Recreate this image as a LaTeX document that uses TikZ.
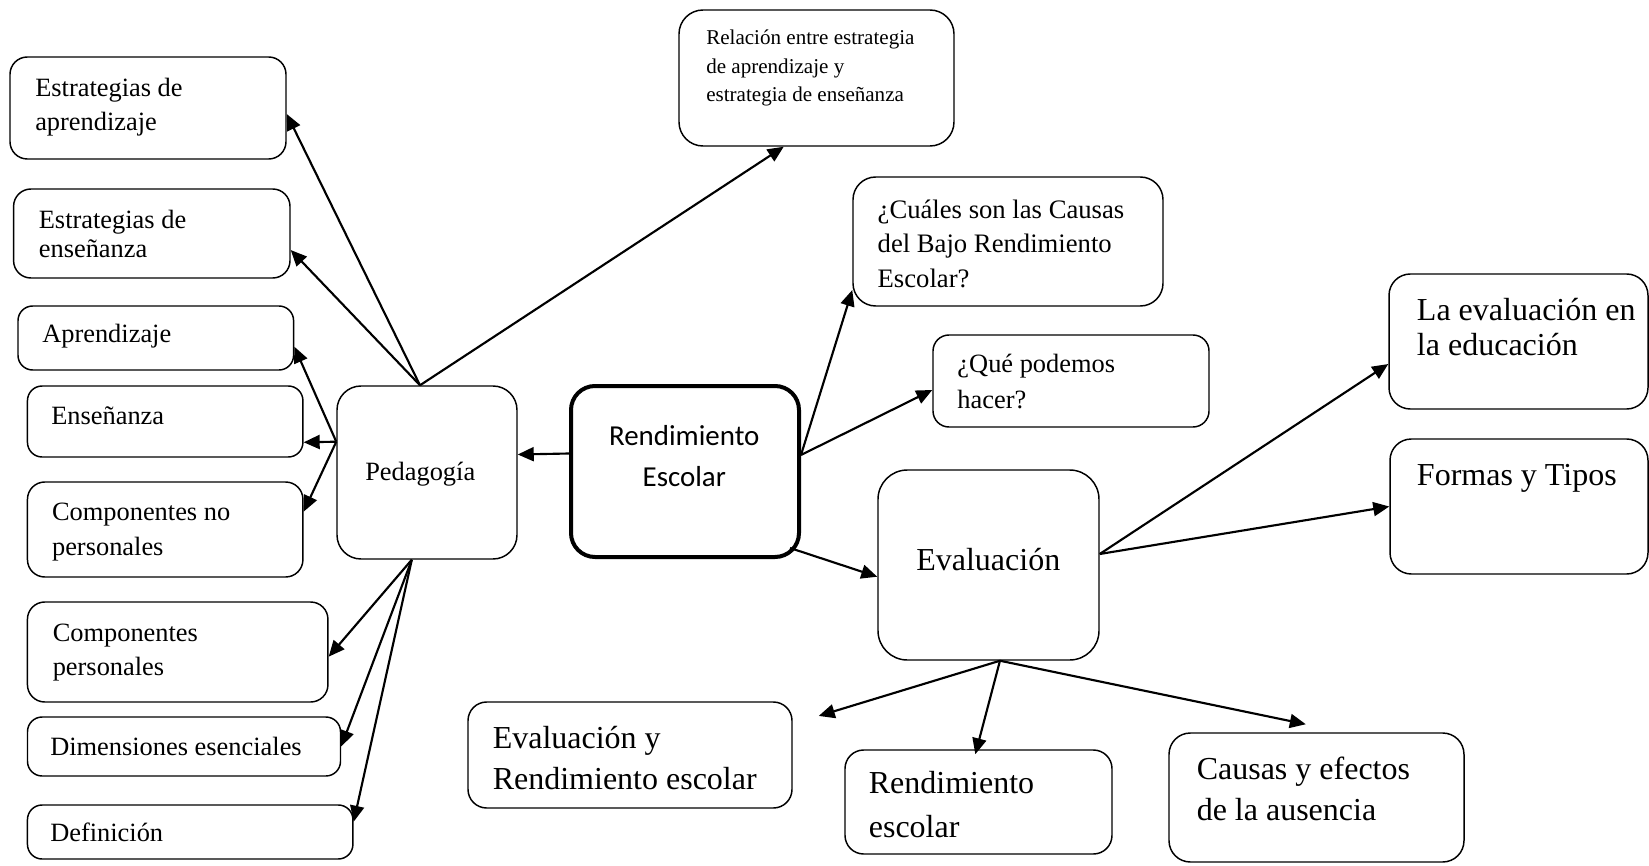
\documentclass[tikz,border=0pt]{standalone}
\usepackage{fontspec}
\setmainfont{Liberation Serif}
\newfontfamily\calibrifont{Carlito}
\usetikzlibrary{arrows.meta}

\begin{document}
\begin{tikzpicture}[
        x=.75pt,y=-.75pt,
        box/.style={draw,rounded corners=11pt,line width=1.1pt,inner sep=0pt},
        txt/.style={anchor=base west,align=left,inner sep=0pt,
          font=\fontsize{19.8}{25.5}\selectfont},
        big/.style={anchor=base west,align=left,inner sep=0pt,
          font=\fontsize{24}{31}\selectfont},
        link/.style={-{Triangle[length=12pt,width=10.5pt]},line width=1.6pt}
      ]
        \useasboundingbox (0,0) rectangle (1649,866);

        % left column
        \node[box,minimum width=207pt,minimum height=76.5pt,rounded corners=13pt] (estapr) at (148,108) {};
        \node[box,minimum width=207.3pt,minimum height=66.75pt,rounded corners=13pt] (estens) at (151.8,233.5) {};
        \node[box,minimum width=206.7pt,minimum height=48pt] (aprend) at (155.8,338) {};
        \node[box,minimum width=206.6pt,minimum height=53.25pt] (ensen) at (165.2,421.5) {};
        \node[box,minimum width=206.6pt,minimum height=71.25pt,rounded corners=13pt] (compnp) at (165.2,529.5) {};
        \node[box,minimum width=225.4pt,minimum height=75pt,rounded corners=13pt] (compp) at (177.7,652) {};
        \node[box,minimum width=234.75pt,minimum height=44.25pt] (dimens) at (184,746.5) {};
        \node[box,minimum width=244.1pt,minimum height=40.5pt] (defin) at (190.2,832) {};

        % (multi-line texts sit on the baseline of their last line)
        \node[txt] (estaprtext) at (35,130.7) {Estrategias de\\aprendizaje};
        \node[txt,font=\fontsize{19.8}{21.75}\selectfont] (estenstext) at (38.6,257.3) {Estrategias de\\enseñanza};
        \node[txt] (aprendtext) at (42,342.7) {Aprendizaje};
        \node[txt] (ensentext) at (51,424) {Enseñanza};
        \node[txt,font=\fontsize{19.8}{25.7}\selectfont] (compnptext) at (51.8,555) {Componentes no\\personales};
        \node[txt] (compptext) at (52.5,675.7) {Componentes\\personales};
        \node[txt] (dimenstext) at (50,755) {Dimensiones esenciales};
        \node[txt] (definext) at (50,841.7) {Definición};

        % centre
        \node[box,minimum width=135pt,minimum height=129.75pt,rounded corners=18pt] (ped) at (427,472.5) {};
        \node[box,minimum width=171pt,minimum height=128.25pt,rounded corners=18pt,line width=3pt] (rend) at (685,471.5) {};
        \node[txt] (pedtext) at (365,480) {Pedagogía};
        \node[anchor=base,align=center,inner sep=0pt,
          font=\calibrifont\fontsize{21.7}{30.75}\selectfont] (rendtext) at (684.3,486) {Rendimiento\\Escolar};

        % top and right
        \node[box,minimum width=206.25pt,minimum height=102pt,rounded corners=18pt] (relac) at (816.5,78) {};
        \node[box,minimum width=232.5pt,minimum height=96.75pt,rounded corners=17pt] (cuales) at (1008,241.5) {};
        \node[box,minimum width=207pt,minimum height=69pt,rounded corners=12pt] (quepod) at (1071,381) {};
        \node[box,minimum width=165.75pt,minimum height=142.5pt,rounded corners=22pt] (evalu) at (988.5,565) {};
        \node[box,minimum width=194.25pt,minimum height=101.25pt,rounded corners=16pt] (laeval) at (1518.5,341.5) {};
        \node[box,minimum width=193.5pt,minimum height=101.25pt,rounded corners=16pt] (formas) at (1519,506.5) {};

        \node[txt,font=\fontsize{15.8}{21.4}\selectfont] (relactext) at (706,102)
          {Relación entre estrategia\\de aprendizaje y\\estrategia de enseñanza};
        \node[txt,font=\fontsize{20}{25.9}\selectfont] (cualestext) at (877.4,287.3)
          {¿Cuáles son las Causas\\del Bajo Rendimiento\\Escolar?};
        \node[txt,font=\fontsize{19.8}{26.7}\selectfont] (quepodtext) at (957.2,408.3) {¿Qué podemos\\hacer?};
        \node[big,anchor=base] (evalutext) at (988.3,570.7) {Evaluación};
        \node[big,font=\fontsize{24}{26.25}\selectfont] (laevaltext) at (1416.7,355) {La evaluación en\\la educación};
        \node[big] (formastext) at (1416.7,485.7) {Formas y Tipos};

        % bottom
        \node[box,minimum width=243pt,minimum height=79.5pt,rounded corners=14pt] (evalrend) at (630,755) {};
        \node[box,minimum width=200.25pt,minimum height=78pt,rounded corners=14pt] (rendesc) at (978.5,802) {};
        \node[box,minimum width=221.25pt,minimum height=96.75pt,rounded corners=16pt] (causas) at (1316.5,797.5) {};

        \node[big,font=\fontsize{24}{30.5}\selectfont] (evalrendtext) at (492.5,789) {Evaluación y\\Rendimiento escolar};
        \node[big,font=\fontsize{24}{32.5}\selectfont] (rendesctext) at (868.6,837.3) {Rendimiento\\escolar};
        \node[big] (causastext) at (1196.5,820.7) {Causas y efectos\\de la ausencia};

        % connectors
        \draw[link] ([yshift=13.5pt]rend.west) -- ([yshift=13.5pt]ped.east);
        \foreach \n/\dy in {estapr/-4.5,estens/-12.4}
          \draw[link] ([xshift=-5.25pt]ped.north) -- ([yshift=\dy pt]\n.east);
        \draw[link] ([xshift=-5.25pt]ped.north) -- ([xshift=-24.6pt]relac.south);
        \foreach \n/\dy in {aprend/-6.5,ensen/-15.6,compnp/13.4}
          \draw[link] ([yshift=23.1pt]ped.west) -- ([yshift=\dy pt]\n.east);
        \foreach \n/\dy in {compp/-3.5,dimens/0,defin/7.7}
          \draw[link] ([xshift=-11.4pt]ped.south) -- ([yshift=\dy pt]\n.east);

        \draw[link] ([yshift=12.4pt]rend.east) -- ([yshift=-36.4pt]cuales.west);
        \draw[link] ([yshift=12.4pt]rend.east) -- ([yshift=-6.75pt]quepod.west);
        \draw[link] ([xshift=-8.25pt,yshift=8.25pt]rend.south east) -- ([yshift=-8.8pt]evalu.west);

        \draw[link] ([yshift=8.25pt]evalu.east) -- ([yshift=-16.9pt]laeval.west);
        \draw[link] ([yshift=8.25pt]evalu.east) -- (formas.west);
        \draw[link] ([xshift=8.6pt]evalu.south) -- ([xshift=19.5pt,yshift=-11pt]evalrend.north east);
        \draw[link] ([xshift=8.6pt]evalu.south) -- ([xshift=-2.4pt,yshift=-3.75pt]rendesc.north);
        \draw[link] ([xshift=8.6pt]evalu.south) -- ([xshift=-8pt,yshift=6pt]causas.north);
      \end{tikzpicture}
\end{document}
